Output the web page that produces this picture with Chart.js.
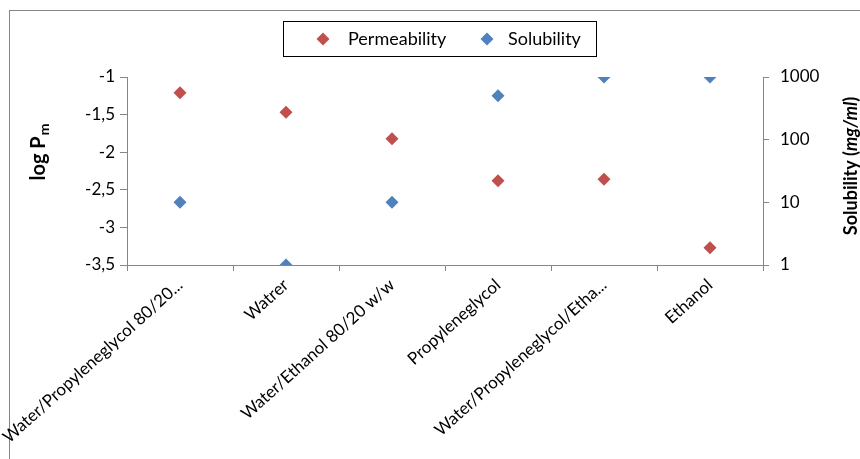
<!DOCTYPE html>
<html><head><meta charset="utf-8">
<script src="https://cdn.jsdelivr.net/npm/chart.js@4"></script>
<style>html,body{margin:0;padding:0;background:#fff}#wrap{position:relative;width:860px;height:459px}</style>
</head><body><div id="wrap"><canvas id="c" width="860" height="459"></canvas></div>
<script>
const categories = ['Water/Propyleneglycol 80/20...', 'Watrer', 'Water/Ethanol 80/20 w/w', 'Propyleneglycol', 'Water/Propyleneglycol/Etha...', 'Ethanol'];
const permeability = [-1.21, -1.47, -1.82, -2.38, -2.36, -3.27];
const solubility = [10, 1, 10, 500, 1000, 1000];
const leftTicks = [-1, -1.5, -2, -2.5, -3, -3.5];
const rightTicks = [1, 10, 100, 1000];

const RED = '#C0504D', BLUE = '#4F81BD', AXIS = '#868686';
const FONT = 'Lato, "Open Sans", sans-serif';

const decor = {
  id: 'decor',
  beforeDraw(chart) {
    const ctx = chart.ctx;
    ctx.save();
    ctx.fillStyle = '#fff';
    ctx.fillRect(0, 0, chart.width, chart.height);
    ctx.strokeStyle = AXIS;
    ctx.lineWidth = 1;
    ctx.strokeRect(9.5, 10.5, 900, 500);
    ctx.restore();
  },
  afterDraw(chart) {
    const ctx = chart.ctx;
    ctx.save();
    // legend (built from the datasets)
    ctx.strokeStyle = '#000';
    ctx.lineWidth = 1;
    ctx.strokeRect(283.5, 21.5, 313, 35);
    const items = [{ px: 323, tx: 348 }, { px: 487, tx: 508 }];
    chart.data.datasets.forEach((ds, i) => {
      const it = items[i];
      ctx.fillStyle = ds.backgroundColor;
      ctx.strokeStyle = ds.borderColor;
      Chart.helpers.drawPoint(ctx, { pointStyle: 'rectRot', radius: 6.5, borderWidth: 0, rotation: 0 }, it.px, 39);
      ctx.fillStyle = '#000';
      ctx.font = '18px ' + FONT;
      ctx.textAlign = 'left';
      ctx.textBaseline = 'middle';
      ctx.fillText(ds.label, it.tx, 39);
    });
    // left axis title: log P_m
    ctx.fillStyle = '#000';
    ctx.translate(39, 152);
    ctx.rotate(-Math.PI / 2);
    ctx.textBaseline = 'middle';
    ctx.font = 'bold 20px ' + FONT;
    const w1 = ctx.measureText('log P').width;
    ctx.font = 'bold 14px ' + FONT;
    const w2 = ctx.measureText('m').width;
    const tot = w1 + w2 + 1;
    ctx.font = 'bold 20px ' + FONT;
    ctx.textAlign = 'left';
    ctx.fillText('log P', -tot / 2, 0);
    ctx.font = 'bold 14px ' + FONT;
    ctx.fillText('m', -tot / 2 + w1 + 1, 5);
    ctx.setTransform(1, 0, 0, 1, 0, 0);
    // right axis title: Solubility (mg/ml)
    ctx.translate(851, 166);
    ctx.rotate(-Math.PI / 2);
    const parts = [['bold 18px ' + FONT, 'Solubility ('], ['italic bold 18px ' + FONT, 'mg/ml'], ['bold 18px ' + FONT, ')']];
    let total = 0;
    parts.forEach(p => { ctx.font = p[0]; total += ctx.measureText(p[1]).width; });
    let x = -total / 2;
    parts.forEach(p => { ctx.font = p[0]; ctx.fillText(p[1], x, 0); x += ctx.measureText(p[1]).width; });
    ctx.restore();
  }
};

new Chart(document.getElementById('c'), {
  type: 'line',
  data: {
    labels: categories,
    datasets: [
      { label: 'Permeability', data: permeability, yAxisID: 'y', showLine: false,
        pointStyle: 'rectRot', pointRadius: 6.5, pointHoverRadius: 6.5,
        backgroundColor: RED, borderColor: RED, borderWidth: 0 },
      { label: 'Solubility', data: solubility, yAxisID: 'y1', showLine: false,
        pointStyle: 'rectRot', pointRadius: 6.5, pointHoverRadius: 6.5,
        backgroundColor: BLUE, borderColor: BLUE, borderWidth: 0 }
    ]
  },
  options: {
    responsive: false,
    animation: false,
    events: [],
    layout: { padding: { left: 0, right: 0, top: 77, bottom: 0 } },
    plugins: {
      tooltip: { enabled: false },
      legend: { display: false }
    },
    scales: {
      x: {
        type: 'category', offset: true,
        grid: { offset: true, drawOnChartArea: false, color: AXIS, tickLength: 6 },
        border: { color: AXIS },
        ticks: { autoSkip: false, minRotation: 42, maxRotation: 42, color: '#000', padding: 4,
          font: { family: FONT, size: 17 } },
        afterFit(s) { s.height = 194; s.paddingLeft = 0; s.paddingRight = 0; }
      },
      y: {
        position: 'left', min: -3.5, max: -1,
        grid: { drawOnChartArea: false, color: AXIS, tickLength: 7 },
        border: { color: AXIS },
        afterBuildTicks(s) { s.ticks = leftTicks.map(v => ({ value: v })); },
        ticks: { color: '#000', padding: 5, font: { family: FONT, size: 17 },
          callback: v => String(v).replace('.', ',') },
        afterFit(s) { s.width = 127; }
      },
      y1: {
        type: 'logarithmic', position: 'right', min: 1, max: 1000,
        grid: { drawOnChartArea: false, color: AXIS, tickLength: 6 },
        border: { color: AXIS },
        afterBuildTicks(s) { s.ticks = rightTicks.map(v => ({ value: v })); },
        ticks: { color: '#000', padding: 11, font: { family: FONT, size: 17 },
          callback: v => String(v) },
        afterFit(s) { s.width = 97; }
      }
    }
  },
  plugins: [decor]
});
</script></body></html>
